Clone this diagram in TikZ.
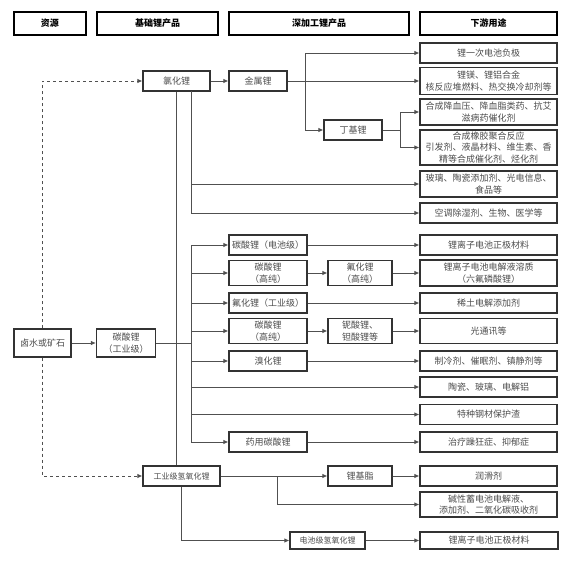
\documentclass[tikz,border=0pt]{standalone}
\usepackage{fontspec}
\setmainfont{Noto Sans CJK SC}
\usepackage{xcolor}
\usepackage{tikz}
\usetikzlibrary{arrows.meta,positioning,calc}

\definecolor{linegray}{HTML}{505050}
\definecolor{textgray}{HTML}{4D4D4D}

\begin{document}
\begin{tikzpicture}[
    x=1pt, y=-1pt,
    headbox/.style={rectangle, draw=black, line width=1.4pt, font=\fontsize{9}{11}\selectfont\bfseries, minimum height=23pt, inner sep=0pt},
    box/.style={rectangle, draw=black!80, line width=1.1pt, fill=white, text=textgray, font=\fontsize{9}{11.5}\selectfont, align=center, minimum height=20pt, inner sep=0pt},
    usebox/.style={box, minimum width=137pt},
    midbox/.style={box, minimum width=78pt},
    subbox/.style={box, minimum width=64pt},
    arrow/.style={->, >={Latex[length=5pt,width=4.5pt]}, draw=linegray, line width=0.9pt},
    link/.style={draw=linegray, line width=0.9pt},
    dasharrow/.style={arrow, dashed}
]
    \useasboundingbox (0,0) rectangle (587,570);

    % Column heads
    \node[headbox, minimum width=72pt] (hsrc) at (50,23.5) {资源};
    \node[headbox, minimum width=121pt] (hbase) at (157.5,23.5) {基础锂产品};
    \node[headbox, minimum width=180pt] (hdeep) at (319,23.5) {深加工锂产品};
    \node[headbox, minimum width=137pt] (huse) at (488.5,23.5) {下游用途};

    % Resource and base products
    \node[box, minimum width=57pt, minimum height=28pt] (src) at (42.5,343) {卤水或矿石};
    \node[box, minimum width=59pt, minimum height=28pt] (li2co3) at (126,343) {碳酸锂\\（工业级）};
    \node[box, minimum width=67pt] (licl) at (176.5,81) {氯化锂};
    \node[box, minimum width=77pt, font=\fontsize{8}{10}\selectfont] (lioh) at (181.5,476) {工业级氢氧化锂};

    % Deep processed products
    \node[midbox, minimum width=58pt] (limetal) at (258,81) {金属锂};
    \node[subbox, minimum width=58pt] (buli) at (353,130) {丁基锂};
    \node[midbox] (c1) at (268,245) {碳酸锂（电池级）};
    \node[midbox, minimum height=25pt] (c2) at (268,273) {碳酸锂\\（高纯）};
    \node[midbox] (c3) at (268,303) {氟化锂（工业级）};
    \node[midbox, minimum height=25pt] (c4) at (268,331) {碳酸锂\\（高纯）};
    \node[midbox] (c5) at (268,361) {溴化锂};
    \node[midbox] (c6) at (268,442) {药用碳酸锂};
    \node[subbox, minimum height=25pt] (lif) at (360,273) {氟化锂\\（高纯）};
    \node[subbox, minimum height=25pt] (linb) at (360,331) {铌酸锂、\\钽酸锂等};
    \node[subbox] (grease) at (360,476) {锂基脂};
    \node[box, minimum width=75pt, minimum height=17pt, font=\fontsize{8}{10}\selectfont] (lioh2) at (327.5,540.5) {电池级氢氧化锂};

    % Downstream uses
    \node[usebox] (u1) at (488.5,53) {锂一次电池负极};
    \node[usebox, minimum height=27pt] (u2) at (488.5,81) {锂镁、锂铝合金\\核反应堆燃料、热交换冷却剂等};
    \node[usebox, minimum height=26pt] (u3) at (488.5,112) {合成降血压、降血脂类药、抗艾\\滋病药催化剂};
    \node[usebox, minimum height=35pt] (u4) at (488.5,147.5) {合成橡胶聚合反应\\引发剂、液晶材料、维生素、香\\精等合成催化剂、烃化剂};
    \node[usebox, minimum height=26pt] (u5) at (488.5,184) {玻璃、陶瓷添加剂、光电信息、\\食品等};
    \node[usebox] (u6) at (488.5,213) {空调除湿剂、生物、医学等};
    \node[usebox] (u7) at (488.5,245) {锂离子电池正极材料};
    \node[usebox, minimum height=26pt] (u8) at (488.5,273) {锂离子电池电解液溶质\\（六氟磷酸锂）};
    \node[usebox] (u9) at (488.5,303) {稀土电解添加剂};
    \node[usebox, minimum height=25pt] (u10) at (488.5,331) {光通讯等};
    \node[usebox] (u11) at (488.5,361) {制冷剂、催眠剂、镇静剂等};
    \node[usebox] (u12) at (488.5,387) {陶瓷、玻璃、电解铝};
    \node[usebox] (u13) at (488.5,414.5) {特种钢材保护渣};
    \node[usebox] (u14) at (488.5,442) {治疗躁狂症、抑郁症};
    \node[usebox] (u15) at (488.5,476) {润滑剂};
    \node[usebox, minimum height=25pt] (u16) at (488.5,504.5) {碱性蓄电池电解液、\\添加剂、二氧化碳吸收剂};
    \node[usebox, minimum width=138pt, minimum height=17pt] (u17) at (489,540.5) {锂离子电池正极材料};

    % Junction points
    \coordinate (j1) at (305,81);
    \coordinate (j2) at (400,130);
    \coordinate (j3) at (277,476);
    \coordinate (bus1) at (191,91);
    \coordinate (bus2) at (191,343);

    % Resource links
    \draw[dasharrow] (src) |- (licl);
    \draw[dasharrow] (src) |- (lioh);
    \draw[arrow] (src) -- (li2co3);

    % Lithium chloride branch
    \draw[arrow] (licl) -- (limetal);
    \draw[arrow] (limetal) -- (u2);
    \draw[arrow] (j1) |- (u1);
    \draw[arrow] (j1) |- (buli);
    \draw[link] (buli) -- (j2);
    \draw[arrow] (j2) |- (u3);
    \draw[arrow] (j2) |- (u4);
    \draw[arrow] (bus1) |- (u5);
    \draw[arrow] (bus1) |- (u6);
    \draw[link] (licl) -- (licl |- lioh.north);

    % Lithium carbonate branch
    \draw[link] (li2co3) -- (bus2);
    \draw[link] (bus2 |- c1) -- (bus2 |- c6);
    \foreach \n in {c1,c2,c3,c4,c5,c6}
        \draw[arrow] (bus2) |- (\n);
    \draw[arrow] (bus2) |- (u12);
    \draw[arrow] (bus2) |- (u13);
    \draw[arrow] (c1) -- (u7);
    \draw[arrow] (c2) -- (lif);
    \draw[arrow] (lif) -- (u8);
    \draw[arrow] (c3) -- (u9);
    \draw[arrow] (c4) -- (linb);
    \draw[arrow] (linb) -- (u10);
    \draw[arrow] (c5) -- (u11);
    \draw[arrow] (c6) -- (u14);

    % Lithium hydroxide branch
    \draw[arrow] (lioh) -- (grease);
    \draw[arrow] (grease) -- (u15);
    \draw[arrow] (j3) |- (u16);
    \draw[arrow] (lioh) |- (lioh2);
    \draw[arrow] (lioh2) -- (u17);
\end{tikzpicture}
\end{document}
